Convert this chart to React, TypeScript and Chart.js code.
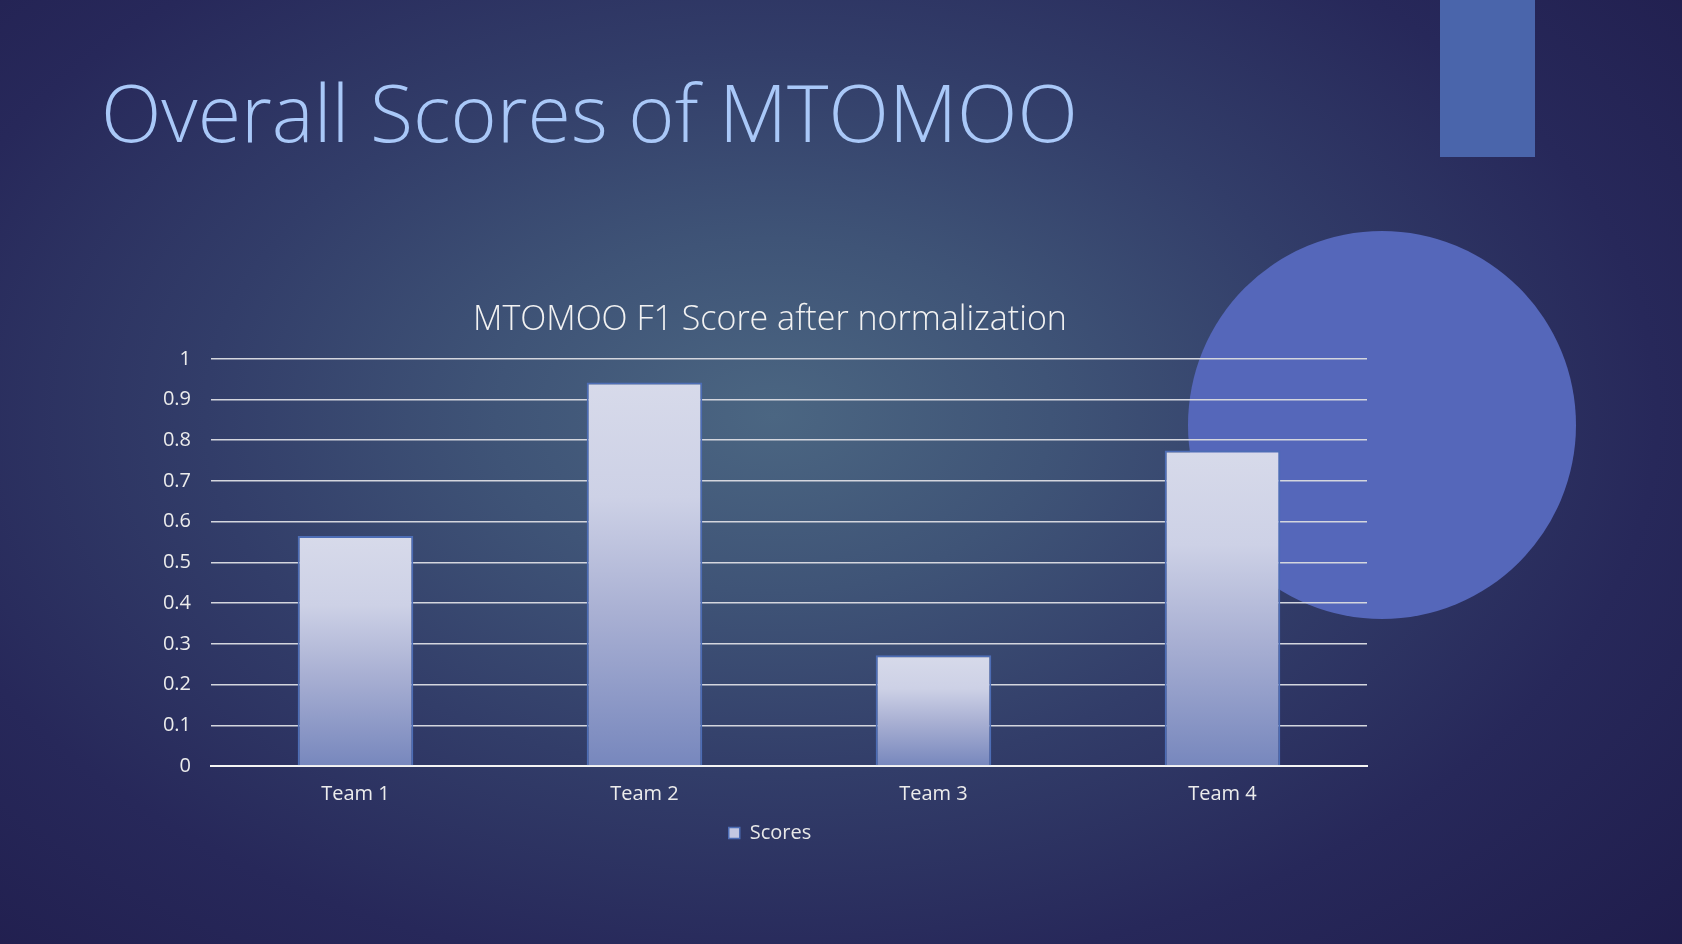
import React, { useEffect, useRef } from "react";
import { Chart, registerables } from "chart.js";

Chart.register(...registerables);

const categories = ["Team 1", "Team 2", "Team 3", "Team 4"];
const scores = [0.565, 0.942, 0.272, 0.775];
const seriesName = "Scores";
const slideTitle = "Overall Scores of MTOMOO";
const chartTitle = "MTOMOO F1 Score after normalization";

const FONT = "'Open Sans', 'Noto Sans', sans-serif";

export default function App() {
  const canvasRef = useRef<HTMLCanvasElement | null>(null);

  useEffect(() => {
    document.body.style.margin = "0";
    const canvas = canvasRef.current;
    if (!canvas) return;
    const chart = new Chart(canvas, {
      type: "bar",
      data: {
        labels: categories,
        datasets: [
          {
            label: seriesName,
            data: scores,
            backgroundColor: (ctx: any) => {
              const c = ctx.chart;
              const ys = c.scales && c.scales.y;
              if (!ys || ctx.raw === undefined) return "#b5bbd9";
              const top = ys.getPixelForValue(ctx.raw);
              const base = ys.getPixelForValue(0);
              if (!isFinite(top) || !isFinite(base) || top === base) return "#b5bbd9";
              const g = c.ctx.createLinearGradient(0, top, 0, base);
              g.addColorStop(0, "#d7daea");
              g.addColorStop(0.3, "#cdd1e6");
              g.addColorStop(0.6, "#a9b0d3");
              g.addColorStop(1, "#7787bd");
              return g;
            },
            borderColor: "#4d6db5",
            borderWidth: 2,
            categoryPercentage: 1,
            barPercentage: 0.4,
            yAxisID: "y",
          },
        ],
      },
      options: {
        animation: false,
        responsive: false,
        devicePixelRatio: 1,
        layout: {
          padding: { left: 150, right: 292, top: 300, bottom: 91 },
        },
        plugins: {
          title: {
            display: true,
            text: chartTitle,
            color: "#f2f2f2",
            font: { family: FONT, size: 34, weight: "300" as any, lineHeight: 1.2 },
            padding: { top: 0, bottom: 18 },
          },
          legend: {
            display: true,
            position: "bottom",
            labels: {
              color: "#e8e8e8",
              font: { family: FONT, size: 20, weight: "400" as any },
              boxWidth: 11,
              boxHeight: 11,
              padding: 10,
              generateLabels: () => [
                {
                  text: seriesName,
                  fillStyle: "#c3c8e2",
                  strokeStyle: "#4d6db5",
                  lineWidth: 1.5,
                  fontColor: "#e8e8e8",
                  datasetIndex: 0,
                  hidden: false,
                } as any,
              ],
            },
          },
          tooltip: { enabled: false },
        },
        scales: {
          x: {
            grid: { display: false, drawTicks: false },
            border: { display: true, color: "#f4f4f4", width: 2 },
            ticks: {
              color: "#ececec",
              font: { family: FONT, size: 20, weight: "400" as any },
              padding: 16,
            },
            afterFit: (s: any) => {
              s.height = 47;
            },
          },
          y: {
            min: 0,
            max: 1,
            ticks: {
              stepSize: 0.1,
              color: "#ececec",
              font: { family: FONT, size: 20, weight: "400" as any },
              padding: 20,
              callback: (v: any) => String(Math.round(Number(v) * 10) / 10),
            },
            grid: { color: "#d4d6de", lineWidth: 1.5, drawTicks: false },
            border: { display: false },
            afterFit: (s: any) => {
              s.width = 61;
            },
          },
          yPad: {
            position: "right",
            display: true,
            min: 0,
            max: 1,
            grid: { display: false, drawTicks: false },
            border: { display: false },
            ticks: { display: false },
            afterFit: (s: any) => {
              s.width = 23;
            },
          },
        },
      },
    });
    return () => chart.destroy();
  }, []);

  return (
    <div
      style={{
        position: "fixed",
        left: 0,
        top: 0,
        width: 1682,
        height: 944,
        overflow: "hidden",
        background:
          "radial-gradient(ellipse 75% 85% at 46% 44%, #4b6682 0%, #3f5477 22%, #323d69 45%, #27285a 70%, #1f1c4b 100%)",
      }}
    >
      <div
        style={{
          position: "absolute",
          left: 1440,
          top: 0,
          width: 95,
          height: 157,
          background: "#4a65ab",
        }}
      />
      <div
        style={{
          position: "absolute",
          left: 1382 - 194,
          top: 425 - 194,
          width: 388,
          height: 388,
          borderRadius: "50%",
          background: "#5567ba",
        }}
      />
      <div
        style={{
          position: "absolute",
          left: 101,
          top: 72,
          fontFamily: FONT,
          fontWeight: 300,
          fontSize: 79,
          lineHeight: 1,
          color: "#a9c8f8",
          whiteSpace: "nowrap",
        }}
      >
        {slideTitle}
      </div>
      <canvas
        ref={canvasRef}
        width={1682}
        height={944}
        style={{ position: "absolute", left: 0, top: 0, width: 1682, height: 944 }}
      />
    </div>
  );
}
